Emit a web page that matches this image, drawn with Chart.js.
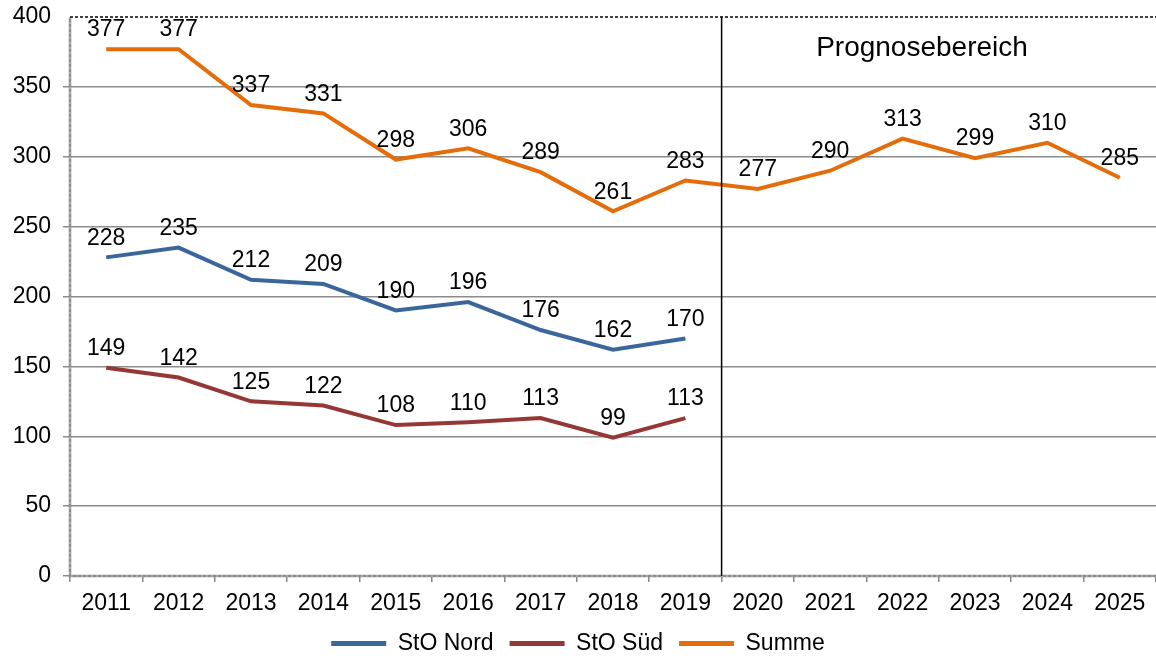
<!DOCTYPE html>
<html>
<head>
<meta charset="utf-8">
<script src="https://cdn.jsdelivr.net/npm/chart.js@4"></script>
<style>
  body { margin: 0; background: #fff; }
  #wrap { width: 1156px; height: 658px; }
</style>
</head>
<body>
<div id="wrap"><canvas id="myChart"></canvas></div>
<script>
let years = ["2011","2012","2013","2014","2015","2016","2017","2018","2019","2020","2021","2022","2023","2024","2025"];
let nord = [228, 235, 212, 209, 190, 196, 176, 162, 170, null, null, null, null, null, null];
let sued = [149, 142, 125, 122, 108, 110, 113, 99, 113, null, null, null, null, null, null];
let summe = [377, 377, 337, 331, 298, 306, 289, 261, 283, 277, 290, 313, 299, 310, 285];
let yTicks = [0, 50, 100, 150, 200, 250, 300, 350, 400];
let lastActual = 8; // 2019, after that forecast

let font = "'Liberation Sans', Arial, sans-serif";

// values above the points
let valueLabels = {
    id: "valueLabels",
    afterDatasetsDraw(chart) {
        let ctx = chart.ctx;
        ctx.save();
        ctx.font = "23px " + font;
        ctx.fillStyle = "#000";
        ctx.textAlign = "center";
        ctx.textBaseline = "middle";
        chart.data.datasets.forEach((ds, i) => {
            let meta = chart.getDatasetMeta(i);
            meta.data.forEach((pt, j) => {
                if (ds.data[j] == null) return;
                ctx.fillText(ds.data[j], pt.x, pt.y - 19);
            });
        });
        ctx.restore();
    }
};

// axis lines, forecast separator, dashed top border, caption
let forecast = {
    id: "forecast",
    afterDraw(chart) {
        let ctx = chart.ctx;
        let x = chart.scales.x;
        let area = chart.chartArea;
        let sep = (x.getPixelForValue(lastActual) + x.getPixelForValue(lastActual + 1)) / 2;
        ctx.save();

        // left + bottom axis: grey with light dashes
        ctx.lineWidth = 2.5;
        ctx.strokeStyle = "#8c8c8c";
        ctx.beginPath();
        ctx.moveTo(area.left, area.top);
        ctx.lineTo(area.left, area.bottom);
        ctx.lineTo(area.right, area.bottom);
        ctx.stroke();
        ctx.strokeStyle = "#c8c8c8";
        ctx.lineWidth = 1;
        ctx.setLineDash([2, 3]);
        ctx.beginPath();
        ctx.moveTo(area.left, area.top);
        ctx.lineTo(area.left, area.bottom);
        ctx.lineTo(area.right, area.bottom);
        ctx.stroke();
        ctx.setLineDash([]);

        ctx.strokeStyle = "#000";
        ctx.lineWidth = 1.5;
        ctx.beginPath();
        ctx.moveTo(sep, area.top);
        ctx.lineTo(sep, area.bottom);
        ctx.stroke();

        ctx.lineWidth = 1.5;
        ctx.setLineDash([3, 2]);
        ctx.beginPath();
        ctx.moveTo(area.left, area.top);
        ctx.lineTo(area.right, area.top);
        ctx.stroke();
        ctx.setLineDash([]);

        ctx.font = "28px " + font;
        ctx.fillStyle = "#000";
        ctx.textAlign = "center";
        ctx.textBaseline = "middle";
        ctx.fillText("Prognosebereich", 922, area.top + 31);
        ctx.restore();
    }
};

function line(label, data, color) {
    return {
        label: label,
        data: data,
        borderColor: color,
        backgroundColor: color,
        borderWidth: 4,
        pointRadius: 0,
        tension: 0,
        spanGaps: false
    };
}

new Chart(document.getElementById("myChart"), {
    type: "line",
    data: {
        labels: years,
        datasets: [
            line("StO Nord", nord, "#3A669B"),
            line("StO Süd", sued, "#953735"),
            line("Summe", summe, "#E46C0A")
        ]
    },
    options: {
        responsive: true,
        maintainAspectRatio: false,
        animation: false,
        layout: { padding: { top: 0, right: 0, left: 0, bottom: -7 } },
        plugins: {
            tooltip: { enabled: false },
            legend: {
                position: "bottom",
                labels: {
                    color: "#000",
                    font: { family: font, size: 23 },
                    boxWidth: 55,
                    boxHeight: 5,
                    padding: 16,
                    generateLabels(chart) {
                        return Chart.defaults.plugins.legend.labels.generateLabels(chart).map(l => {
                            l.lineWidth = 0;
                            return l;
                        });
                    }
                }
            }
        },
        scales: {
            x: {
                offset: true,
                afterFit(scale) {
                    scale.height = 40;
                },
                grid: {
                    offset: true,
                    drawOnChartArea: false,
                    drawTicks: true,
                    tickLength: 6,
                    color: "#888",
                    lineWidth: 1.5
                },
                border: { display: false },
                ticks: {
                    color: "#000",
                    font: { family: font, size: 23 },
                    maxRotation: 0,
                    autoSkip: false,
                    padding: 8
                }
            },
            y: {
                min: 0,
                max: 400,
                afterBuildTicks(scale) {
                    scale.ticks = yTicks.map(v => ({ value: v }));
                },
                afterFit(scale) {
                    scale.width = 70;
                    scale.paddingTop = 17;
                },
                grid: {
                    color: ctx => ctx.tick && ctx.tick.value === 400 ? "rgba(0,0,0,0)" : "#8c8c8c",
                    lineWidth: 1.5,
                    tickLength: 7
                },
                border: { display: false },
                ticks: {
                    color: "#000",
                    font: { family: font, size: 23, lineHeight: 1 },
                    padding: 12
                }
            }
        }
    },
    plugins: [valueLabels, forecast]
});
</script>
</body>
</html>
